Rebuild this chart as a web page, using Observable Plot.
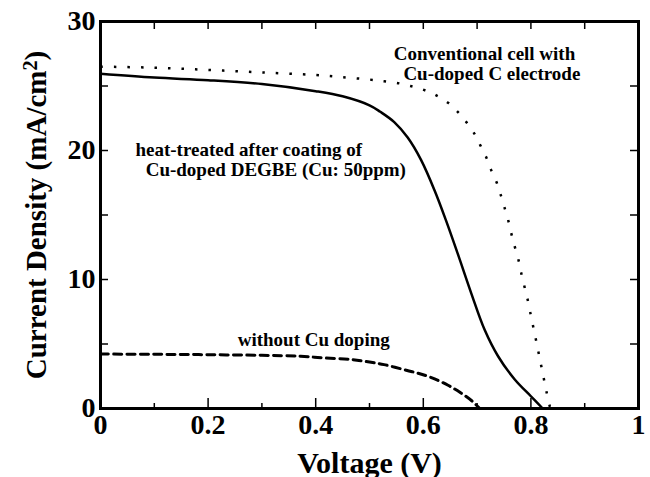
<!DOCTYPE html>
<html>
<head>
<meta charset="utf-8">
<script src="https://cdn.jsdelivr.net/npm/d3@7"></script>
<script src="https://cdn.jsdelivr.net/npm/@observablehq/plot@0.6"></script>
<style>
  html, body { margin: 0; padding: 0; background: #fff; }
  svg { display: block; }
</style>
</head>
<body>
<div id="chart"></div>
<script>
// Voltage (V) and current density (mA/cm²)
const solidV = [0, 0.1, 0.2, 0.3, 0.4, 0.45, 0.5, 0.52, 0.546, 0.571, 0.596, 0.621, 0.642, 0.664, 0.689, 0.714, 0.739, 0.77, 0.80, 0.822];
const solidJ = [25.95, 25.65, 25.45, 25.15, 24.6, 24.2, 23.5, 23.0, 22.2, 21.0, 19.25, 16.9, 14.6, 12.0, 8.95, 6.1, 4.05, 2.25, 0.95, 0];

const dottedV = [0, 0.1, 0.2, 0.3, 0.4, 0.45, 0.5, 0.527, 0.551, 0.576, 0.601, 0.624, 0.646, 0.664, 0.68, 0.694, 0.706, 0.717, 0.726, 0.736, 0.744, 0.751, 0.758, 0.764, 0.77, 0.777, 0.782, 0.788, 0.794, 0.799, 0.804, 0.809, 0.814, 0.819, 0.824, 0.829, 0.836];
const dottedJ = [26.5, 26.42, 26.25, 26.05, 25.85, 25.68, 25.5, 25.37, 25.24, 25.0, 24.7, 24.28, 23.7, 23.0, 22.2, 21.37, 20.4, 19.47, 18.5, 17.56, 16.55, 15.57, 14.56, 13.5, 12.55, 11.5, 10.5, 9.46, 8.43, 7.4, 6.4, 5.4, 4.38, 3.35, 2.32, 1.29, 0];

const dashedV = [0, 0.1, 0.2, 0.3, 0.372, 0.415, 0.466, 0.5, 0.527, 0.57, 0.59, 0.615, 0.646, 0.67, 0.69, 0.705];
const dashedJ = [4.22, 4.2, 4.17, 4.12, 4.05, 3.92, 3.8, 3.6, 3.4, 2.95, 2.74, 2.4, 1.8, 1.2, 0.6, 0];

const xMajorTicks = [0, 0.2, 0.4, 0.6, 0.8, 1];
const xMajorLabels = ["0", "0.2", "0.4", "0.6", "0.8", "1"];
const xMinorTicks = [0.1, 0.3, 0.5, 0.7, 0.9];
const xAllTicks = [0, 0.1, 0.2, 0.3, 0.4, 0.5, 0.6, 0.7, 0.8, 0.9, 1];
const yTicks = [0, 5, 10, 15, 20, 25, 30];
const yLabelTicks = [0, 10, 20, 30];
const yLabels = ["0", "10", "20", "30"];

const noteText = ["Conventional cell with", "Cu-doped C electrode", "heat-treated after coating of", "Cu-doped DEGBE (Cu: 50ppm)", "without Cu doping"];
const noteV = [0.545, 0.563, 0.065, 0.084, 0.255];
const noteJ = [26.98, 25.5, 19.55, 18.0, 4.88];

const toRows = (vs, js) => vs.map((v, i) => ({v, j: js[i]}));
const solid = toRows(solidV, solidJ);
const dotted = toRows(dottedV, dottedJ);
const dashed = toRows(dashedV, dashedJ);
const notes = noteText.map((t, i) => ({t, v: noteV[i], j: noteJ[i]}));

const font = "'Liberation Serif', 'Times New Roman', serif";
const W = 650, H = 477, ML = 100, MR = 12, MT = 21, MB = 69;
const FH = H - MT - MB, FW = W - ML - MR;

const chart = Plot.plot({
  width: W,
  height: H,
  marginLeft: ML,
  marginRight: MR,
  marginTop: MT,
  marginBottom: MB,
  style: {fontFamily: font, fontWeight: "bold", color: "#000", background: "#fff"},
  x: {domain: [0, 1], axis: null},
  y: {domain: [0, 30], axis: null},
  marks: [
    // inward ticks
    Plot.ruleX(xMajorTicks, {x: d => d, insetTop: FH - 10, stroke: "#000", strokeWidth: 1.5}),
    Plot.ruleX(xMinorTicks, {x: d => d, insetTop: FH - 5, stroke: "#000", strokeWidth: 1.5}),
    Plot.ruleX(xAllTicks, {x: d => d, insetBottom: FH - 8, stroke: "#000", strokeWidth: 1.5}),
    Plot.ruleY(yTicks, {y: d => d, insetRight: FW - 8, stroke: "#000", strokeWidth: 1.5}),
    Plot.ruleY(yTicks, {y: d => d, insetLeft: FW - 8, stroke: "#000", strokeWidth: 1.5}),
    // tick labels
    Plot.axisX({ticks: xMajorTicks, tickSize: 0, tickPadding: 6, fontSize: 28, fontWeight: "bold",
      tickFormat: d => xMajorLabels[xMajorTicks.indexOf(d)], label: null}),
    Plot.axisY({ticks: yLabelTicks, tickSize: 0, tickPadding: 5, fontSize: 28, fontWeight: "bold",
      tickFormat: d => yLabels[yLabelTicks.indexOf(d)], label: null}),
    Plot.frame({stroke: "#000", strokeWidth: 3}),
    // curves
    Plot.line(solid, {x: "v", y: "j", curve: "catmull-rom", stroke: "#000", strokeWidth: 2.5}),
    Plot.line(dotted, {x: "v", y: "j", curve: "catmull-rom", stroke: "#000", strokeWidth: 2.5, strokeDasharray: "2.5,11", strokeLinecap: "butt"}),
    Plot.line(dashed, {x: "v", y: "j", curve: "catmull-rom", stroke: "#000", strokeWidth: 3, strokeDasharray: "8,5.3"}),
    // annotations
    Plot.text(notes, {x: "v", y: "j", text: "t", textAnchor: "start", lineAnchor: "bottom", fontSize: 19, fontWeight: "bold", fill: "#000"}),
    // axis titles
    Plot.text(["Voltage (V)"], {frameAnchor: "bottom", dy: 64, fontSize: 30, fontWeight: "bold", lineAnchor: "bottom", textAnchor: "middle", fill: "#000"}),
    Plot.text(["Current Density (mA/cm2)"], {frameAnchor: "left", dx: -64, rotate: -90, fontSize: 29, fontWeight: "bold", lineAnchor: "middle", textAnchor: "middle", fill: "#000"})
  ]
});

document.getElementById("chart").appendChild(chart);

// superscript 2 in the y title
d3.select(chart).selectAll("text").filter(function() { return this.textContent === "Current Density (mA/cm2)"; })
  .each(function() {
    const t = d3.select(this);
    t.text("Current Density (mA/cm");
    t.append("tspan").attr("dy", "-0.45em").attr("font-size", "0.7em").text("2");
    t.append("tspan").attr("dy", "0.3em").text(")");
  });
</script>
</body>
</html>
